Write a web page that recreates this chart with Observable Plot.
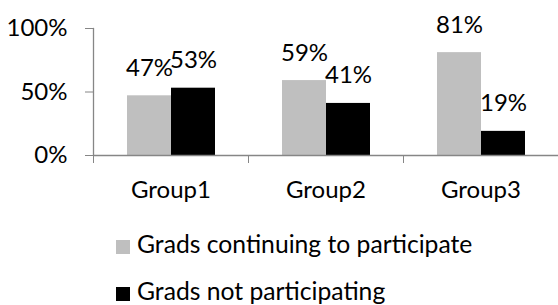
<!DOCTYPE html>
<html>
<head>
<meta charset="utf-8">
<script src="https://cdn.jsdelivr.net/npm/d3@7"></script>
<script src="https://cdn.jsdelivr.net/npm/@observablehq/plot@0.6"></script>
<style>
  html, body { margin: 0; padding: 0; background: #fff; }
  #wrap { position: relative; width: 558px; height: 305px; overflow: hidden; font-family: Lato, sans-serif; }
  #legend { position: absolute; left: 116px; top: 231px; font-size: 24.7px; color: #000; }
  .item { display: flex; align-items: center; height: 26px; line-height: 26px; margin-bottom: 21px; white-space: nowrap; }
  .sw { width: 14px; height: 14px; margin-right: 7px; position: relative; top: 3px; }
</style>
</head>
<body>
<div id="wrap"><div id="chart"></div><div id="legend"></div></div>
<script>
const groups = ["Group1", "Group2", "Group3"];
const series = ["Grads continuing to participate", "Grads not participating"];
const continuing = [47, 59, 81];
const notParticipating = [53, 41, 19];
const yTicks = [0, 50, 100];
const colors = ["#BFBFBF", "#000000"];
const axisColor = "#868686";

const data = [];
groups.forEach((g, i) => {
  data.push({group: g, series: series[0], value: continuing[i]});
  data.push({group: g, series: series[1], value: notParticipating[i]});
});

const chart = Plot.plot({
  width: 558,
  height: 210,
  marginLeft: 93,
  marginRight: 0,
  marginTop: 28,
  marginBottom: 55,
  style: {fontFamily: "Lato, sans-serif", fontSize: "24px", color: "#000", background: "#fff", overflow: "visible"},
  fx: {domain: groups, padding: 0},
  x: {domain: series, paddingInner: 0, paddingOuter: 0.74, axis: null},
  y: {domain: [0, 100]},
  color: {domain: series, range: colors},
  marks: [
    Plot.barY(data, {fx: "group", x: "series", y: "value", fill: "series"}),
    Plot.text(data, {fx: "group", x: "series", y: "value", text: d => d.value + "%", lineAnchor: "bottom", dy: -20, fill: "#000"}),
    Plot.ruleY([0], {stroke: axisColor, strokeWidth: 1.3}),
    Plot.frame({anchor: "left", facetAnchor: "left", stroke: axisColor, strokeWidth: 1.3}),
    Plot.axisY({ticks: yTicks, tickFormat: d => d + "%", tickSize: 8, tickPadding: 18, stroke: axisColor, label: null, fill: "#000"}),
    Plot.axisFx({anchor: "bottom", tickSize: 0, tickPadding: 25, label: null, fill: "#000"}),
    Plot.axisFx({anchor: "bottom", tickSize: 8, text: null, dx: -77.5, stroke: axisColor, label: null})
  ]
});
document.getElementById("chart").appendChild(chart);

const legend = document.getElementById("legend");
series.forEach((s, i) => {
  const item = document.createElement("div");
  item.className = "item";
  const sw = document.createElement("span");
  sw.className = "sw";
  sw.style.background = colors[i];
  const t = document.createElement("span");
  t.textContent = s;
  item.appendChild(sw);
  item.appendChild(t);
  legend.appendChild(item);
});
</script>
</body>
</html>
